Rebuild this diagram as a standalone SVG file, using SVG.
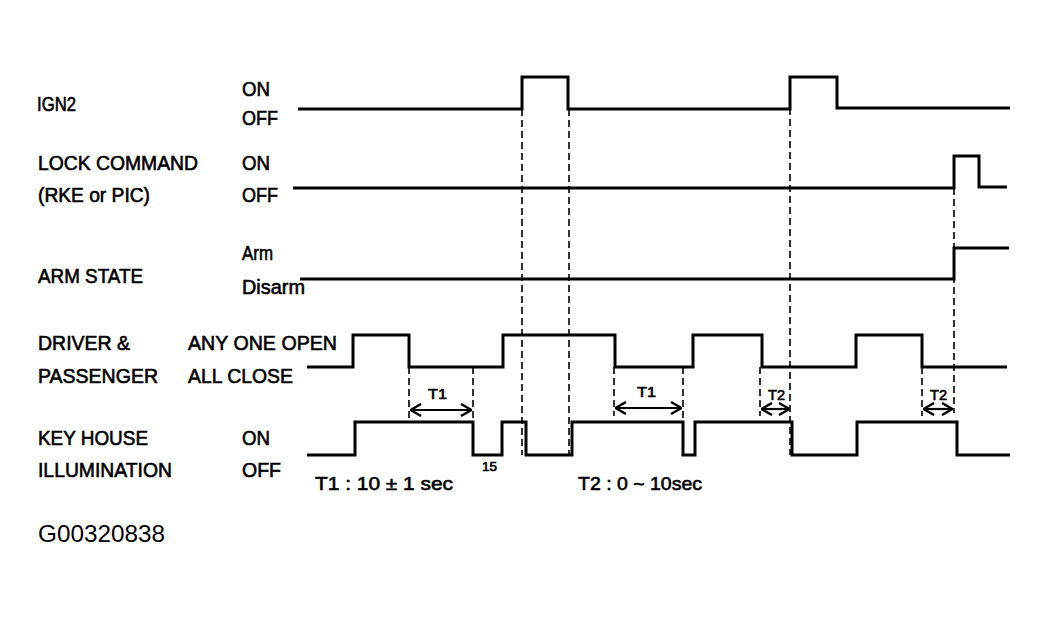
<svg xmlns="http://www.w3.org/2000/svg" width="1049" height="619" viewBox="0 0 1049 619">
<style>
text { font-family: "Liberation Sans", Arial, sans-serif; fill: #000; stroke: #000; stroke-width: 0.6; }
.lbl { font-size: 20px; }
.sm { font-size: 14px; }
.thin { stroke: none; }
.sig { fill: none; stroke: #000; stroke-width: 3; stroke-linejoin: miter; }
.dash { fill: none; stroke: #000; stroke-width: 1.6; stroke-dasharray: 7 4; }
.arr { fill: none; stroke: #000; stroke-width: 2.2; marker-start: url(#ah); marker-end: url(#ah); }
</style>
<defs>
<marker id="ah" viewBox="0 0 12 14" refX="12" refY="7" markerWidth="12" markerHeight="14" markerUnits="userSpaceOnUse" orient="auto-start-reverse">
<polyline points="1,1 11.5,7 1,13" fill="none" stroke="#000" stroke-width="2.4"/>
</marker>
</defs>
<rect width="1049" height="619" fill="#fff"/>

<g id="ign2">
<text class="lbl" x="37" y="111" textLength="39" lengthAdjust="spacingAndGlyphs">IGN2</text>
<text class="lbl" x="242" y="96" textLength="28" lengthAdjust="spacingAndGlyphs">ON</text>
<text class="lbl" x="242" y="125" textLength="36" lengthAdjust="spacingAndGlyphs">OFF</text>
<path class="sig" d="M298,109 H522 V77 H568 V109 H790 V77 H837 V108 H1010"/>
</g>

<g id="lock-command">
<text class="lbl" x="38" y="170" textLength="160" lengthAdjust="spacingAndGlyphs">LOCK COMMAND</text>
<text class="lbl" x="38" y="202" textLength="112" lengthAdjust="spacingAndGlyphs">(RKE or PIC)</text>
<text class="lbl" x="242" y="170" textLength="28" lengthAdjust="spacingAndGlyphs">ON</text>
<text class="lbl" x="242" y="202" textLength="36" lengthAdjust="spacingAndGlyphs">OFF</text>
<path class="sig" d="M293,188 H954 V156 H979 V187 H1007"/>
</g>

<g id="arm-state">
<text class="lbl" x="38" y="283" textLength="105" lengthAdjust="spacingAndGlyphs">ARM STATE</text>
<text class="lbl" x="242" y="260" textLength="31" lengthAdjust="spacingAndGlyphs">Arm</text>
<text class="lbl" x="242" y="294" textLength="63" lengthAdjust="spacingAndGlyphs">Disarm</text>
<path class="sig" d="M300,279 H954 V248 H1009"/>
</g>

<g id="driver-passenger">
<text class="lbl" x="38" y="350" textLength="92" lengthAdjust="spacingAndGlyphs">DRIVER &amp;</text>
<text class="lbl" x="38" y="383" textLength="120" lengthAdjust="spacingAndGlyphs">PASSENGER</text>
<text class="lbl" x="188" y="350" textLength="149" lengthAdjust="spacingAndGlyphs">ANY ONE OPEN</text>
<text class="lbl" x="188" y="383" textLength="105" lengthAdjust="spacingAndGlyphs">ALL CLOSE</text>
<path class="sig" d="M307,367 H353 V335 H409 V367 H503 V335 H615 V367 H693 V335 H762 V367 H856 V335 H922 V367 H1007"/>
</g>

<g id="key-house">
<text class="lbl" x="38" y="445" textLength="110" lengthAdjust="spacingAndGlyphs">KEY HOUSE</text>
<text class="lbl" x="38" y="477" textLength="134" lengthAdjust="spacingAndGlyphs">ILLUMINATION</text>
<text class="lbl" x="242" y="445" textLength="28" lengthAdjust="spacingAndGlyphs">ON</text>
<text class="lbl" x="242" y="477" textLength="39" lengthAdjust="spacingAndGlyphs">OFF</text>
<path class="sig" d="M307,455 H355 V422 H473 V455 H502 V422 H526 V455 H572 V422 H683 V455 H695 V422 H792 V455 H857 V422 H957 V455 H1010"/>
<text x="482" y="471" font-size="13" textLength="15" lengthAdjust="spacingAndGlyphs">15</text>
</g>

<g id="connectors">
<line class="dash" x1="522" y1="109" x2="522" y2="455"/>
<line class="dash" x1="569" y1="109" x2="569" y2="455"/>
<line class="dash" x1="790" y1="108" x2="790" y2="455"/>
<line class="dash" x1="954" y1="188" x2="954" y2="413"/>
<line class="dash" x1="409" y1="367" x2="409" y2="418"/>
<line class="dash" x1="473" y1="367" x2="473" y2="422"/>
<line class="dash" x1="614" y1="367" x2="614" y2="416"/>
<line class="dash" x1="683" y1="367" x2="683" y2="422"/>
<line class="dash" x1="760" y1="367" x2="760" y2="416"/>
<line class="dash" x1="922" y1="367" x2="922" y2="416"/>
<line class="arr" x1="410" y1="410" x2="472" y2="410"/>
<line class="arr" x1="615" y1="408" x2="682" y2="408"/>
<line class="arr" x1="761" y1="409" x2="790" y2="409"/>
<line class="arr" x1="923" y1="409" x2="953" y2="409"/>
<text class="sm" x="428" y="399" textLength="19" lengthAdjust="spacingAndGlyphs">T1</text>
<text class="sm" x="637" y="397" textLength="19" lengthAdjust="spacingAndGlyphs">T1</text>
<text class="sm" x="768" y="400" textLength="17" lengthAdjust="spacingAndGlyphs">T2</text>
<text class="sm" x="930" y="400" textLength="17" lengthAdjust="spacingAndGlyphs">T2</text>
</g>

<g id="notes">
<text x="315" y="490" font-size="19" textLength="138" lengthAdjust="spacingAndGlyphs">T1 : 10 ± 1 sec</text>
<text x="578" y="490" font-size="19" textLength="124" lengthAdjust="spacingAndGlyphs">T2 : 0 ~ 10sec</text>
<text class="thin" x="38" y="542" font-size="24" textLength="127" lengthAdjust="spacingAndGlyphs">G00320838</text>
</g>
</svg>
